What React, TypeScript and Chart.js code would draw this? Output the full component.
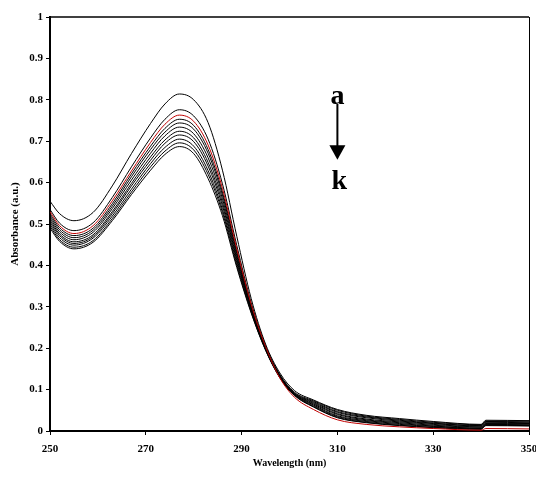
import React, { useEffect, useRef } from "react";
import { Chart, registerables } from "chart.js";

Chart.register(...registerables);

const WAVELENGTHS = [250, 252, 255, 259, 263, 267, 271, 274, 277, 280, 283, 286, 289, 292, 295, 298, 301, 305, 310, 316, 323, 330, 340, 341, 350];

const CURVE_A = [0.555, 0.525, 0.508, 0.528, 0.592, 0.670, 0.743, 0.790, 0.814, 0.800, 0.745, 0.630, 0.470, 0.320, 0.210, 0.140, 0.098, 0.075, 0.052, 0.038, 0.030, 0.023, 0.016, 0.026, 0.025];
const CURVE_B = [0.535, 0.502, 0.484, 0.503, 0.564, 0.638, 0.708, 0.753, 0.776, 0.761, 0.705, 0.597, 0.448, 0.310, 0.206, 0.136, 0.094, 0.073, 0.050, 0.036, 0.028, 0.021, 0.015, 0.024, 0.024];
const CURVE_C = [0.530, 0.496, 0.477, 0.496, 0.556, 0.628, 0.697, 0.741, 0.763, 0.748, 0.691, 0.586, 0.440, 0.306, 0.204, 0.128, 0.082, 0.052, 0.027, 0.016, 0.010, 0.006, 0.002, 0.006, 0.005];
const CURVE_D = [0.525, 0.491, 0.472, 0.490, 0.549, 0.621, 0.688, 0.731, 0.753, 0.738, 0.680, 0.577, 0.434, 0.303, 0.203, 0.134, 0.092, 0.071, 0.047, 0.034, 0.026, 0.019, 0.013, 0.023, 0.022];
const CURVE_E = [0.520, 0.486, 0.467, 0.485, 0.543, 0.614, 0.680, 0.722, 0.744, 0.729, 0.671, 0.570, 0.429, 0.301, 0.202, 0.133, 0.091, 0.069, 0.045, 0.032, 0.024, 0.018, 0.012, 0.021, 0.020];
const CURVE_F = [0.515, 0.481, 0.462, 0.480, 0.537, 0.606, 0.671, 0.713, 0.734, 0.718, 0.660, 0.561, 0.423, 0.298, 0.201, 0.132, 0.090, 0.067, 0.042, 0.029, 0.022, 0.016, 0.010, 0.019, 0.018];
const CURVE_G = [0.510, 0.476, 0.457, 0.474, 0.530, 0.598, 0.662, 0.703, 0.724, 0.708, 0.649, 0.552, 0.417, 0.295, 0.199, 0.131, 0.089, 0.065, 0.040, 0.027, 0.020, 0.014, 0.009, 0.018, 0.017];
const CURVE_H = [0.505, 0.472, 0.453, 0.470, 0.525, 0.592, 0.654, 0.695, 0.715, 0.699, 0.640, 0.544, 0.412, 0.293, 0.198, 0.131, 0.089, 0.063, 0.037, 0.025, 0.018, 0.012, 0.007, 0.016, 0.015];
const CURVE_I = [0.500, 0.467, 0.449, 0.466, 0.519, 0.584, 0.646, 0.685, 0.705, 0.688, 0.629, 0.535, 0.406, 0.290, 0.197, 0.130, 0.088, 0.061, 0.035, 0.023, 0.016, 0.011, 0.006, 0.015, 0.014];
const CURVE_J = [0.495, 0.462, 0.444, 0.460, 0.513, 0.577, 0.638, 0.676, 0.696, 0.679, 0.620, 0.528, 0.400, 0.287, 0.196, 0.129, 0.087, 0.059, 0.033, 0.021, 0.014, 0.009, 0.005, 0.014, 0.013];
const CURVE_K = [0.490, 0.458, 0.440, 0.456, 0.508, 0.571, 0.630, 0.668, 0.687, 0.670, 0.610, 0.520, 0.395, 0.285, 0.195, 0.128, 0.086, 0.058, 0.032, 0.020, 0.013, 0.008, 0.004, 0.013, 0.012];

const SERIES_NAMES = ["a", "b", "c", "d", "e", "f", "g", "h", "i", "j", "k"];
const SERIES_VALUES = [CURVE_A, CURVE_B, CURVE_C, CURVE_D, CURVE_E, CURVE_F, CURVE_G, CURVE_H, CURVE_I, CURVE_J, CURVE_K];
const SERIES_COLORS = ["#000000", "#000000", "#c00000", "#000000", "#000000", "#000000", "#000000", "#000000", "#000000", "#000000", "#000000"];

const X_TICKS = ["250", "270", "290", "310", "330", "350"];
const Y_TICKS = ["0", "0.1", "0.2", "0.3", "0.4", "0.5", "0.6", "0.7", "0.8", "0.9", "1"];

const X_TITLE = "Wavelength (nm)";
const Y_TITLE = "Absorbance (a.u.)";
const ARROW_TOP = "a";
const ARROW_BOTTOM = "k";

const FONT = "'Liberation Serif', 'Times New Roman', serif";

const decorPlugin = {
  id: "decor",
  afterDraw(chart: any) {
    const { ctx, chartArea } = chart;
    const { left, right, top, bottom } = chartArea;
    ctx.save();
    ctx.strokeStyle = "#000";
    ctx.lineWidth = 1.5;
    ctx.beginPath();
    ctx.moveTo(left, top);
    ctx.lineTo(right, top);
    ctx.stroke();
    ctx.lineWidth = 1;
    ctx.beginPath();
    ctx.moveTo(right + 0.5, top);
    ctx.lineTo(right + 0.5, bottom);
    ctx.stroke();

    ctx.fillStyle = "#000";
    ctx.font = `bold 10px ${FONT}`;
    ctx.textAlign = "center";
    ctx.textBaseline = "middle";
    ctx.fillText(X_TITLE, (left + right) / 2, 463);
    ctx.save();
    ctx.translate(15, (top + bottom) / 2);
    ctx.rotate(-Math.PI / 2);
    ctx.font = `bold 11px ${FONT}`;
    ctx.fillText(Y_TITLE, 0, 0);
    ctx.restore();

    const xs = chart.scales.x;
    const ys = chart.scales.y;
    const ax = xs.getPixelForValue(310);
    ctx.font = `bold 28px ${FONT}`;
    ctx.textAlign = "center";
    ctx.textBaseline = "alphabetic";
    ctx.fillText(ARROW_TOP, ax, ys.getPixelForValue(0.79));
    ctx.fillText(ARROW_BOTTOM, ax + 2, ys.getPixelForValue(0.585));
    ctx.lineWidth = 2;
    ctx.beginPath();
    ctx.moveTo(ax, ys.getPixelForValue(0.79));
    ctx.lineTo(ax, ys.getPixelForValue(0.68));
    ctx.stroke();
    ctx.beginPath();
    ctx.moveTo(ax - 8, ys.getPixelForValue(0.69));
    ctx.lineTo(ax + 8, ys.getPixelForValue(0.69));
    ctx.lineTo(ax, ys.getPixelForValue(0.655));
    ctx.closePath();
    ctx.fill();
    ctx.restore();
  },
};

export default function App() {
  const ref = useRef<HTMLCanvasElement | null>(null);

  useEffect(() => {
    if (!ref.current) return;
    const datasets = SERIES_VALUES.map((vals, si) => ({
      label: SERIES_NAMES[si],
      data: WAVELENGTHS.map((w, i) => ({ x: w, y: vals[i] })),
      borderColor: SERIES_COLORS[si],
      backgroundColor: SERIES_COLORS[si],
      borderWidth: 1,
      pointRadius: 0,
      fill: false,
      cubicInterpolationMode: "monotone" as const,
      order: SERIES_COLORS[si] === "#000000" ? 1 : 0,
    }));

    const chart = new Chart(ref.current, {
      type: "line",
      data: { datasets },
      options: {
        animation: false,
        responsive: false,
        maintainAspectRatio: false,
        layout: { padding: { top: 17, right: 7, left: 0, bottom: 0 } },
        plugins: { legend: { display: false }, tooltip: { enabled: false } },
        scales: {
          x: {
            type: "linear",
            min: 250,
            max: 350,
            ticks: {
              stepSize: 20,
              autoSkip: false,
              maxRotation: 0,
              padding: 8,
              color: "#000",
              font: { family: FONT, weight: "bold", size: 11 },
              callback: (_v: any, i: number) => X_TICKS[i],
            },
            grid: { drawOnChartArea: false, drawTicks: true, tickLength: 4, color: "#000", lineWidth: 1 },
            border: { display: true, color: "#000", width: 2 },
            afterFit: (s: any) => {
              s.height = 50;
              s.paddingLeft = 0;
              s.paddingRight = 0;
            },
          },
          y: {
            type: "linear",
            min: 0,
            max: 1,
            ticks: {
              stepSize: 0.1,
              autoSkip: false,
              padding: 3,
              color: "#000",
              font: { family: FONT, weight: "bold", size: 11 },
              callback: (_v: any, i: number) => Y_TICKS[i],
            },
            grid: { drawOnChartArea: false, drawTicks: true, tickLength: 4, color: "#000", lineWidth: 1 },
            border: { display: true, color: "#000", width: 2 },
            afterFit: (s: any) => {
              s.width = 50;
              s.paddingTop = 0;
              s.paddingBottom = 0;
            },
          },
        },
      },
      plugins: [decorPlugin],
    });
    return () => chart.destroy();
  }, []);

  return (
    <div style={{ position: "absolute", left: 0, top: 0, width: 536, height: 481, background: "#fff" }}>
      <canvas ref={ref} width={536} height={481} style={{ width: 536, height: 481, display: "block" }} />
    </div>
  );
}
